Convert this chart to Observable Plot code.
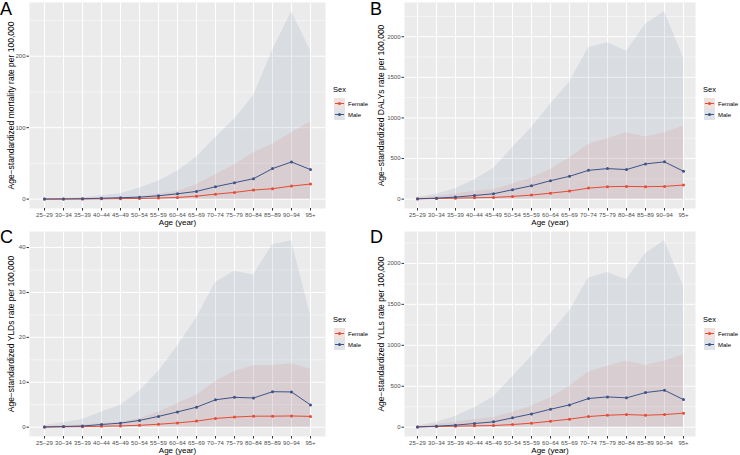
<!DOCTYPE html>
<html>
<head>
<meta charset="utf-8">
<script src="https://cdn.jsdelivr.net/npm/d3@7"></script>
<script src="https://cdn.jsdelivr.net/npm/@observablehq/plot@0.6"></script>
<style>
  body { margin: 0; background: #fff; font-family: "Liberation Sans", Arial, sans-serif; }
  #root { position: relative; width: 740px; height: 455px; overflow: hidden; }
  .panel { position: absolute; width: 370px; }
  .panel svg { display: block; }
  .tag { position: absolute; left: 0; top: 0; font-size: 18px; line-height: 18px; color: #000; }
  .legend { position: absolute; }
  g[aria-label="x-axis label"] { font-size: 8px; fill: #000; }
  g[aria-label="y-axis label"] { font-size: 8.5px; fill: #000; }
</style>
</head>
<body>
<div id="root"></div>
<script>
// Age groups on the x axis
const ageGroups = ["25−29", "30−34", "35−39", "40−44", "45−49", "50−54", "55−59", "60−64",
  "65−69", "70−74", "75−79", "80−84", "85−89", "90−94", "95+"];
const sexes = ["Female", "Male"];
const sexColors = ["#E64B35", "#3C5488"];

// A: mortality rate per 100,000
const mortalityFemale      = [0.05, 0.1, 0.2, 0.4, 0.7, 1.0, 1.5, 2.3, 4.2, 7.0, 9.4, 12.7, 14.6, 18.3, 21.1];
const mortalityFemaleUpper = [0.2, 0.4, 0.8, 1.3, 2.0, 3.8, 7.0, 10.8, 20.0, 34.0, 48.0, 65.0, 76.5, 93.0, 108.0];
const mortalityMale        = [0.1, 0.3, 0.6, 1.2, 2.0, 2.8, 4.7, 7.5, 10.8, 17.4, 23.0, 28.6, 42.7, 52.0, 41.3];
const mortalityMaleUpper   = [0.5, 1.0, 2.0, 4.7, 7.5, 15.5, 25.0, 39.0, 58.7, 86.0, 112.0, 144.6, 208.0, 262.0, 208.0];
const mortalityLower       = [0, 0, 0, 0, 0, 0, 0, 0, 0, 0, 0, 0, 0, 0, 0];
const mortalityTicks = [0, 100, 200];
const mortalityMinor = [50, 150, 250];

// B: DALYs rate per 100,000
const dalysFemale      = [3, 8, 12, 17, 21, 33, 50, 74, 99, 136, 153, 157, 153, 157, 174];
const dalysFemaleUpper = [8, 33, 62, 95, 116, 186, 260, 364, 508, 674, 748, 818, 764, 818, 900];
const dalysMale        = [5, 12, 25, 45, 66, 116, 165, 227, 281, 355, 376, 364, 434, 459, 343];
const dalysMaleUpper   = [20, 62, 128, 240, 376, 632, 880, 1169, 1438, 1864, 1926, 1822, 2153, 2306, 1740];
const dalysLower       = [0, 0, 0, 0, 0, 0, 0, 0, 0, 0, 0, 0, 0, 0, 0];
const dalysTicks = [0, 500, 1000, 1500, 2000];
const dalysMinor = [250, 750, 1250, 1750, 2250];

// C: YLDs rate per 100,000
const yldsFemale      = [0.02, 0.07, 0.12, 0.2, 0.28, 0.42, 0.65, 0.95, 1.35, 1.95, 2.25, 2.45, 2.45, 2.5, 2.4];
const yldsFemaleUpper = [0.1, 0.3, 0.5, 0.8, 1.1, 1.85, 3.3, 5.2, 7.1, 10.2, 12.4, 13.7, 13.7, 14.1, 12.9];
const yldsMale        = [0.05, 0.15, 0.25, 0.6, 0.9, 1.5, 2.4, 3.4, 4.45, 6.1, 6.65, 6.5, 7.9, 7.85, 4.95];
const yldsMaleUpper   = [0.3, 1.0, 1.7, 3.4, 4.9, 8.0, 12.4, 18.0, 24.3, 32.2, 34.7, 33.9, 40.6, 41.5, 25.0];
const yldsLower       = [0, 0, 0, 0, 0, 0, 0, 0, 0, 0, 0, 0, 0, 0, 0];
const yldsTicks = [0, 10, 20, 30, 40];
const yldsMinor = [5, 15, 25, 35];

// D: YLLs rate per 100,000
const yllsFemale      = [3, 8, 12, 16, 20, 32, 49, 73, 98, 130, 146, 154, 146, 154, 171];
const yllsFemaleUpper = [8, 32, 61, 93, 114, 183, 256, 358, 496, 671, 744, 805, 752, 805, 886];
const yllsMale        = [3, 12, 25, 45, 65, 114, 162, 219, 272, 350, 370, 358, 423, 451, 337];
const yllsMaleUpper   = [15, 61, 130, 236, 370, 614, 866, 1142, 1415, 1821, 1890, 1801, 2118, 2276, 1720];
const yllsLower       = [0, 0, 0, 0, 0, 0, 0, 0, 0, 0, 0, 0, 0, 0, 0];
const yllsTicks = [0, 500, 1000, 1500, 2000];
const yllsMinor = [250, 750, 1250, 1750, 2250];

function makeRows(female, femaleUpper, male, maleUpper, lower) {
  const rows = [];
  ageGroups.forEach((age, i) => rows.push({age, sex: "Female", value: female[i], lower: lower[i], upper: femaleUpper[i]}));
  ageGroups.forEach((age, i) => rows.push({age, sex: "Male", value: male[i], lower: lower[i], upper: maleUpper[i]}));
  return rows;
}

const panels = [
  {tag: "A", left: 0, top: 0, height: 228, mL: 29, mT: 2, mB: 20,
   yLabel: "Age−standardized mortality rate per 100,000",
   rows: makeRows(mortalityFemale, mortalityFemaleUpper, mortalityMale, mortalityMaleUpper, mortalityLower),
   ticks: mortalityTicks, minor: mortalityMinor, legendTop: 84},
  {tag: "B", left: 370, top: 0, height: 228, mL: 34, mT: 2, mB: 20,
   yLabel: "Age−standardized DALYs rate per 100,000",
   rows: makeRows(dalysFemale, dalysFemaleUpper, dalysMale, dalysMaleUpper, dalysLower),
   ticks: dalysTicks, minor: dalysMinor, legendTop: 84},
  {tag: "C", left: 0, top: 228, height: 227, mL: 29, mT: 3, mB: 19,
   yLabel: "Age−standardized YLDs rate per 100,000",
   rows: makeRows(yldsFemale, yldsFemaleUpper, yldsMale, yldsMaleUpper, yldsLower),
   ticks: yldsTicks, minor: yldsMinor, legendTop: 86},
  {tag: "D", left: 370, top: 228, height: 227, mL: 34, mT: 3, mB: 19,
   yLabel: "Age−standardized YLLs rate per 100,000",
   rows: makeRows(yllsFemale, yllsFemaleUpper, yllsMale, yllsMaleUpper, yllsLower),
   ticks: yllsTicks, minor: yllsMinor, legendTop: 86}
];

const root = document.getElementById("root");

for (const p of panels) {
  const lo = d3.min(p.rows, d => d.lower);
  const hi = d3.max(p.rows, d => d.upper);
  const pad = (hi - lo) * 0.05;

  const chart = Plot.plot({
    width: 330,
    height: p.height,
    marginLeft: p.mL,
    marginRight: 5,
    marginTop: p.mT,
    marginBottom: p.mB,
    style: {fontFamily: "Liberation Sans, Arial, sans-serif", fontSize: "6px", color: "#4D4D4D", background: "transparent", overflow: "visible"},
    x: {type: "point", domain: ageGroups, padding: 0.6},
    y: {domain: [lo - pad, hi + pad]},
    color: {domain: sexes, range: sexColors},
    marks: [
      Plot.frame({fill: "#EBEBEB", stroke: "none"}),
      Plot.gridY(p.minor, {stroke: "white", strokeOpacity: 1, strokeWidth: 0.5}),
      Plot.gridY(p.ticks, {stroke: "white", strokeOpacity: 1, strokeWidth: 1}),
      Plot.gridX({stroke: "white", strokeOpacity: 1, strokeWidth: 1}),
      Plot.areaY(p.rows, {x: "age", y1: "lower", y2: "upper", z: "sex", fill: "sex", fillOpacity: 0.1}),
      Plot.lineY(p.rows, {x: "age", y: "value", z: "sex", stroke: "sex", strokeWidth: 1}),
      Plot.dot(p.rows, {x: "age", y: "value", fill: "sex", r: 1.5}),
      Plot.axisX({tickSize: 2.5, tickPadding: 1.5, stroke: "#333", label: "Age (year)", labelAnchor: "center", labelOffset: 16.5, labelArrow: false}),
      Plot.axisY(p.ticks, {tickSize: 2.5, tickPadding: 1.5, stroke: "#333", tickFormat: d3.format("d"), label: p.yLabel, labelAnchor: "center", labelOffset: p.mL - 7, labelArrow: false})
    ]
  });

  const div = document.createElement("div");
  div.className = "panel";
  div.style.left = p.left + "px";
  div.style.top = p.top + "px";
  div.style.height = p.height + "px";
  div.appendChild(chart);

  const tag = document.createElement("div");
  tag.className = "tag";
  tag.textContent = p.tag;
  div.appendChild(tag);

  // ggplot-style legend: ribbon key with line and point
  const leg = d3.create("svg")
    .attr("class", "legend")
    .attr("width", 40).attr("height", 40)
    .style("left", "331px").style("top", p.legendTop + "px")
    .style("font-family", "Liberation Sans, Arial, sans-serif");
  leg.append("text").attr("x", 2).attr("y", 8).attr("font-size", 7.5).attr("fill", "#000").text("Sex");
  sexes.forEach((s, i) => {
    const y0 = 14 + i * 11;
    leg.append("rect").attr("x", 3).attr("y", y0).attr("width", 11).attr("height", 11).attr("fill", "#F2F2F2");
    leg.append("rect").attr("x", 3).attr("y", y0).attr("width", 11).attr("height", 11).attr("fill", sexColors[i]).attr("fill-opacity", 0.1);
    leg.append("line").attr("x1", 4).attr("x2", 13).attr("y1", y0 + 5.5).attr("y2", y0 + 5.5).attr("stroke", sexColors[i]).attr("stroke-width", 1);
    leg.append("circle").attr("cx", 8.5).attr("cy", y0 + 5.5).attr("r", 1.5).attr("fill", sexColors[i]);
    leg.append("text").attr("x", 17).attr("y", y0 + 7.5).attr("font-size", 6).attr("fill", "#000").text(s);
  });
  div.appendChild(leg.node());

  root.appendChild(div);
}
</script>
</body>
</html>
